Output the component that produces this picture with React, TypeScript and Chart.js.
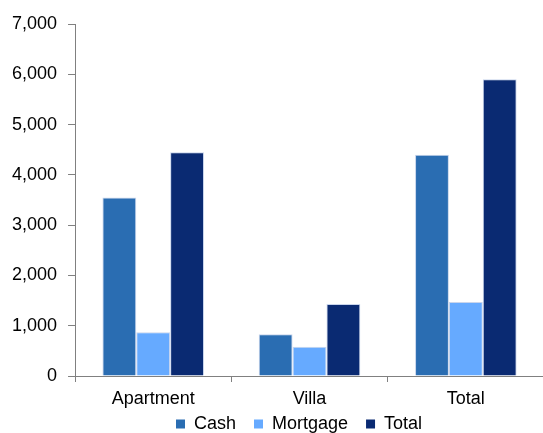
import React, { useEffect, useRef } from 'react';
import { Chart, registerables } from 'chart.js';

Chart.register(...registerables);

const categories = ['Apartment', 'Villa', 'Total'];
const seriesNames = ['Cash', 'Mortgage', 'Total'];
const cashValues = [3550, 830, 4400];
const mortgageValues = [870, 580, 1470];
const totalValues = [4450, 1430, 5900];
const yMin = 0;
const yMax = 7000;
const yStep = 1000;

const seriesColors = ['#2A6DB2', '#66AAFF', '#0A2A72'];

// nudges the bottom legend box so it sits as in the original
const legendShift = {
  id: 'legendShift',
  afterLayout(chart: any) {
    const l = chart.legend;
    if (l) {
      l.left -= 21;
      l.top -= 14;
      l.bottom -= 14;
    }
  },
};

export default function App() {
  const ref = useRef<HTMLCanvasElement | null>(null);

  useEffect(() => {
    if (!ref.current) return;
    const font = { family: '"Liberation Sans", Arial, sans-serif', size: 18 };
    const seriesData = [cashValues, mortgageValues, totalValues];
    const chart = new Chart(ref.current, {
      type: 'bar',
      data: {
        labels: categories,
        datasets: seriesNames.map((name, i) => ({
          label: name,
          data: seriesData[i],
          backgroundColor: seriesColors[i],
          borderColor: '#C9D5EC',
          borderWidth: 1,
          categoryPercentage: 0.65,
          barPercentage: 1.0,
        })),
      },
      options: {
        animation: false,
        responsive: false,
        maintainAspectRatio: false,
        layout: { padding: { top: 24, left: 1, right: 0, bottom: 0 } },
        plugins: {
          tooltip: { enabled: false },
          legend: {
            position: 'bottom',
            fullSize: false,
            labels: {
              color: '#000',
              font,
              boxWidth: 9,
              boxHeight: 9,
              padding: 18,
              generateLabels: (c: any) => {
                const items = Chart.defaults.plugins.legend.labels.generateLabels(c);
                return items.map((it: any) => ({ ...it, lineWidth: 0, strokeStyle: 'rgba(0,0,0,0)' }));
              },
            },
          },
        },
        scales: {
          x: {
            grid: {
              display: true,
              drawOnChartArea: false,
              drawTicks: true,
              tickLength: 6,
              color: '#808080',
              offset: true,
            },
            border: { display: true, color: '#808080', width: 1 },
            ticks: {
              color: '#000',
              font: { ...font, lineHeight: '4px' },
              padding: 15,
              maxRotation: 0,
            },
            afterFit: (scale: any) => {
              scale.height = 35;
            },
          },
          y: {
            min: yMin,
            max: yMax,
            grid: {
              display: true,
              drawOnChartArea: false,
              drawTicks: true,
              tickLength: 7,
              color: '#808080',
            },
            border: { display: true, color: '#808080', width: 1 },
            ticks: {
              stepSize: yStep,
              color: '#000',
              font,
              padding: 11,
              callback: (v: any) => Number(v).toLocaleString('en-US'),
            },
          },
        },
      },
      plugins: [legendShift],
    } as any);
    return () => chart.destroy();
  }, []);

  return (
    <div style={{ position: 'fixed', left: 0, top: 0, width: 543, height: 433, overflow: 'hidden', background: '#fff' }}>
      <canvas ref={ref} width={544} height={457} style={{ display: 'block', width: 544, height: 457 }} />
    </div>
  );
}
